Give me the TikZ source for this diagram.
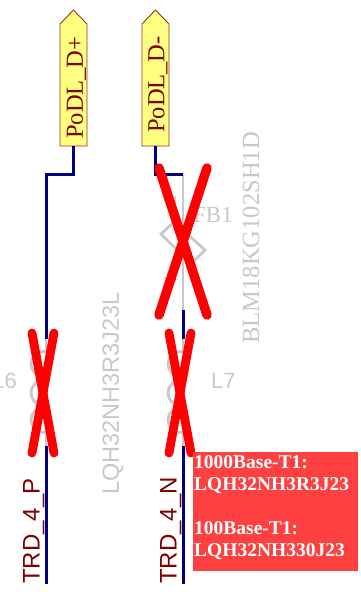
\documentclass[tikz,border=0pt]{standalone}
\usepackage{fontspec}
\setmainfont{Liberation Serif}
\setsansfont{Liberation Sans}
\definecolor{wirecol}{RGB}{0,0,132}
\definecolor{portfill}{RGB}{255,255,128}
\definecolor{portline}{RGB}{150,50,40}
\definecolor{portText}{RGB}{128,0,0}
\definecolor{ghost}{RGB}{200,200,200}
\definecolor{crossred}{RGB}{255,0,0}
\definecolor{noteRed}{RGB}{255,64,64}
\tikzset{x=1pt,y=-1pt,
 wirepath/.style={draw=wirecol,line width=3pt},
 ghostline/.style={draw=ghost,line width=2.8pt},
 crossline/.style={draw=crossred,line width=8.8pt,line cap=round},
 fatcross/.style={draw=crossred,line width=9.5pt,line cap=round},
 portbody/.style={draw=portline,fill=portfill,line width=.9pt},
 porttext/.style={text=portText,font=\rmfamily\fontsize{24.5}{24.5}\selectfont,rotate=90,inner sep=0pt},
 nettext/.style={text=portText,font=\sffamily\fontsize{24}{24}\selectfont,rotate=90,inner sep=0pt},
 ghosttext/.style={text=ghost,font=\sffamily\fontsize{22}{22}\selectfont,inner sep=0pt},
 ghostserif/.style={text=ghost,font=\rmfamily\fontsize{23}{23}\selectfont,inner sep=0pt},
 notetext/.style={text=white,font=\rmfamily\bfseries\fontsize{19.5}{22}\selectfont,inner sep=0pt,align=left,anchor=north west}}
\begin{document}
\begin{tikzpicture}
\useasboundingbox (0,0) rectangle (360,592);
\fill[white] (0,0) rectangle (360,592);
% ports
\draw[portbody] (60,146) -- (60,24) -- (73.5,10) -- (87,24) -- (87,146) -- cycle;
\draw[portbody] (142,146) -- (142,24) -- (155.5,10) -- (169,24) -- (169,146) -- cycle;
\coordinate (p1) at (73.5,146);
\coordinate (p2) at (155.5,146);
\node[porttext,anchor=west] (t1) at (76.5,139) {PoDL\_D+};
\node[porttext,anchor=west] (t2) at (158,133) {PoDL\_D-};
% ghost parts
\coordinate (fbtop) at (155.5,174);
\coordinate (fbr) at (183,174);
\coordinate (fbbot) at (183,310);
\draw[ghostline] (fbr) -- (fbbot);
\draw[ghostline] (161,234) -- (174,222) -- (205,250) -- (191,264) -- cycle;
\node[ghosttext,rotate=90,font=\sffamily\fontsize{17}{17}\selectfont] (pin2) at (170,200) {2};
\node[ghosttext,rotate=90,font=\sffamily\fontsize{17}{17}\selectfont] (pin1) at (170,279) {1};
\node[ghostserif,anchor=west] (fb) at (193,215) {FB1};
\node[ghostserif,rotate=90,anchor=west,font=\rmfamily\fontsize{24.6}{24.6}\selectfont] (fbv) at (251,344) {BLM18KG102SH1D};
% inductors
\foreach \xx in {46,183}{
 \draw[ghostline] (\xx,338) -- (\xx,352);
 \draw[ghostline] (\xx,432) -- (\xx,446);
 \foreach \yy in {364,393,420}{
  \draw[ghostline] (\xx+1.8,\yy+11.7) arc[start angle=70,end angle=290,radius=12.5];
 }
}
\node[ghosttext,anchor=east] (l6) at (17,381) {L6};
\node[ghosttext,anchor=west] (l7) at (211,381) {L7};
\node[ghosttext,rotate=90,anchor=west,font=\sffamily\fontsize{23.5}{23.5}\selectfont] (lv) at (113,495) {LQH32NH3R3J23L};
% wires
\draw[wirepath] (p1) -- (73.5,174) -- (46.3,174) -- (46.3,339);
\draw[wirepath] (46.3,446) -- (46.3,584);
\draw[wirepath] (p2) -- (fbtop) -- (fbr);
\draw[wirepath] (fbbot) -- (183,339);
\draw[wirepath] (183,446) -- (183,584);
% net labels
\node[nettext,anchor=base west] (n1) at (39.5,584) {TRD\_4\_P};
\node[nettext,anchor=base west] (n2) at (176.5,584) {TRD\_4\_N};
% crosses
\draw[fatcross] (159,168) -- (207,315);
\draw[fatcross] (207,168) -- (159,315);
\draw[crossline] (32,333) -- (54,453);
\draw[crossline] (54,333) -- (32,453);
\draw[crossline] (169,333) -- (191,453);
\draw[crossline] (191,333) -- (169,453);
% note
\fill[noteRed] (193,452) rectangle (358,571);
\node[notetext] (note) at (194,455) {1000Base-T1:\\LQH32NH3R3J23\\[22pt]100Base-T1:\\LQH32NH330J23};
\end{tikzpicture}
\end{document}
